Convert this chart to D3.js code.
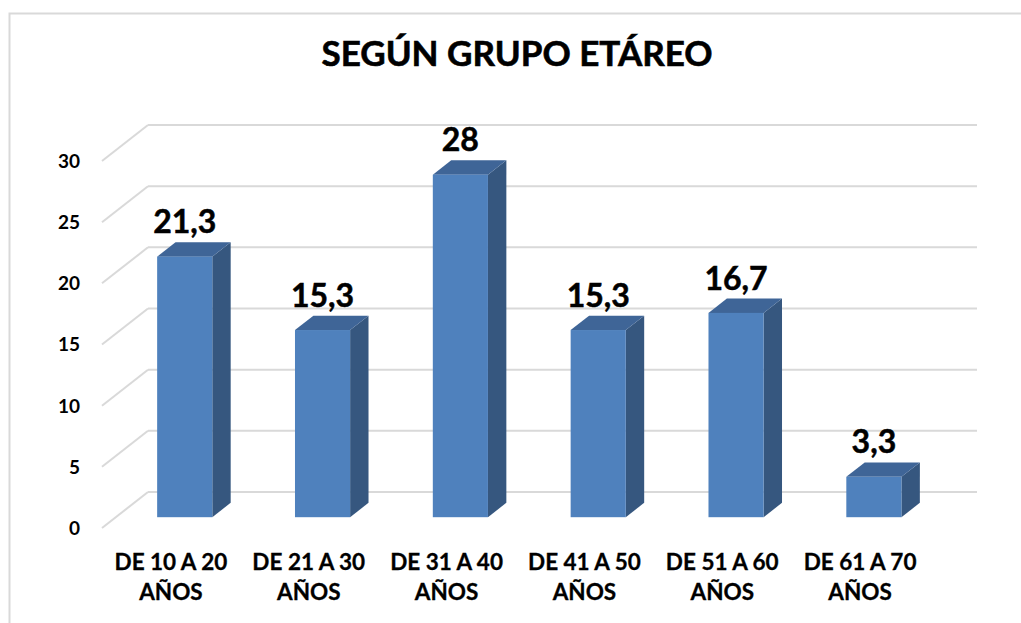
<!DOCTYPE html>
<html>
<head>
<meta charset="utf-8">
<script src="https://cdn.jsdelivr.net/npm/d3@7"></script>
<style>
  body { margin: 0; background: #fff; }
  text { font-family: Lato, "Open Sans", sans-serif; font-weight: bold; fill: #000; }
</style>
</head>
<body>
<div id="container"></div>
<script>
/* DATA */
const categories = ["DE 10 A 20 AÑOS", "DE 21 A 30 AÑOS", "DE 31 A 40 AÑOS", "DE 41 A 50 AÑOS", "DE 51 A 60 AÑOS", "DE 61 A 70 AÑOS"]
const values = [21.3, 15.3, 28, 15.3, 16.7, 3.3]
const valueLabels = ["21,3", "15,3", "28", "15,3", "16,7", "3,3"]
const yTicks = [0, 5, 10, 15, 20, 25, 30]
const title = "SEGÚN GRUPO ETÁREO"

/* CONSTANTS */
const width = 1021, height = 623
const depth = { dx: 46, dy: -36 }       // floor depth, front -> back wall
const barDepth = [0.3, 0.7]             // bar sits in the middle of the depth

const svg = d3.select("#container")
  .append("svg")
  .attr("width", width)
  .attr("height", height)

// chart frame (only top and left edges show)
svg.append("rect")
  .attr("x", 9.5).attr("y", 13.5)
  .attr("width", 1040).attr("height", 640)
  .attr("fill", "none")
  .attr("stroke", "#d9d9d9")
  .attr("stroke-width", 2)

// SCALES (front plane)
const xScale = d3.scaleBand()
  .domain(categories)
  .range([102, 929])
  .paddingInner(0.6)
  .paddingOuter(0.3)

const yScale = d3.scaleLinear()
  .domain([0, 30])
  .range([528, 161])

// GRIDLINES: back wall + floor diagonal
const grid = svg.append("g")
grid.selectAll(".back")
  .data(yTicks)
  .join("line")
  .attr("x1", 102 + depth.dx).attr("x2", 929 + depth.dx + 2)
  .attr("y1", d => yScale(d) + depth.dy).attr("y2", d => yScale(d) + depth.dy)
  .attr("stroke", "#d9d9d9").attr("stroke-width", 2)
grid.selectAll(".side")
  .data(yTicks)
  .join("line")
  .attr("x1", 102).attr("x2", 102 + depth.dx)
  .attr("y1", d => yScale(d)).attr("y2", d => yScale(d) + depth.dy)
  .attr("stroke", "#d9d9d9").attr("stroke-width", 2)

// Y AXIS LABELS
svg.append("g")
  .selectAll("text")
  .data(yTicks)
  .join("text")
  .attr("x", 80)
  .attr("y", d => yScale(d))
  .attr("dy", "0.36em")
  .attr("text-anchor", "end")
  .style("font-size", "19px")
  .text(d => d)

// BARS (3D boxes)
const f0 = { x: depth.dx * barDepth[0], y: depth.dy * barDepth[0] }
const f1 = { x: depth.dx * barDepth[1], y: depth.dy * barDepth[1] }
const bw = xScale.bandwidth()

const bars = svg.selectAll(".bar")
  .data(values.map((v, i) => ({ v, c: categories[i], label: valueLabels[i] })))
  .join("g")
  .attr("class", "bar")

bars.each(function (d) {
  const g = d3.select(this)
  const x0 = xScale(d.c) + f0.x, x1 = x0 + bw
  const yb = yScale(0) + f0.y, yt = yScale(d.v) + f0.y
  const ox = f1.x - f0.x, oy = f1.y - f0.y
  // side
  g.append("path")
    .attr("d", `M${x1},${yb}L${x1 + ox},${yb + oy}L${x1 + ox},${yt + oy}L${x1},${yt}Z`)
    .attr("fill", "#36577f")
  // top
  g.append("path")
    .attr("d", `M${x0},${yt}L${x0 + ox},${yt + oy}L${x1 + ox},${yt + oy}L${x1},${yt}Z`)
    .attr("fill", "#3f6597")
  // front
  g.append("rect")
    .attr("x", x0).attr("y", yt)
    .attr("width", bw).attr("height", yb - yt)
    .attr("fill", "#4f81bd")
  // value label
  g.append("text")
    .attr("x", x0 + bw / 2)
    .attr("y", yt + oy - 9)
    .attr("text-anchor", "middle")
    .style("font-size", "32px")
    .style("stroke", "#000").style("stroke-width", 0.5)
    .text(d.label)
})

// CATEGORY LABELS (two lines)
const catLabels = svg.append("g")
  .selectAll("text")
  .data(categories)
  .join("text")
  .attr("x", d => xScale(d) + bw / 2)
  .attr("y", 570)
  .attr("text-anchor", "middle")
  .style("font-size", "22.5px")
  .style("stroke", "#000").style("stroke-width", 0.3)

catLabels.append("tspan")
  .attr("x", d => xScale(d) + bw / 2)
  .text(d => d.replace(" AÑOS", ""))
catLabels.append("tspan")
  .attr("x", d => xScale(d) + bw / 2)
  .attr("dy", 30)
  .text("AÑOS")

// TITLE
svg.append("text")
  .attr("x", 517)
  .attr("y", 66)
  .attr("text-anchor", "middle")
  .style("font-size", "35px")
  .style("stroke", "#000").style("stroke-width", 0.6)
  .text(title)
</script>
</body>
</html>
